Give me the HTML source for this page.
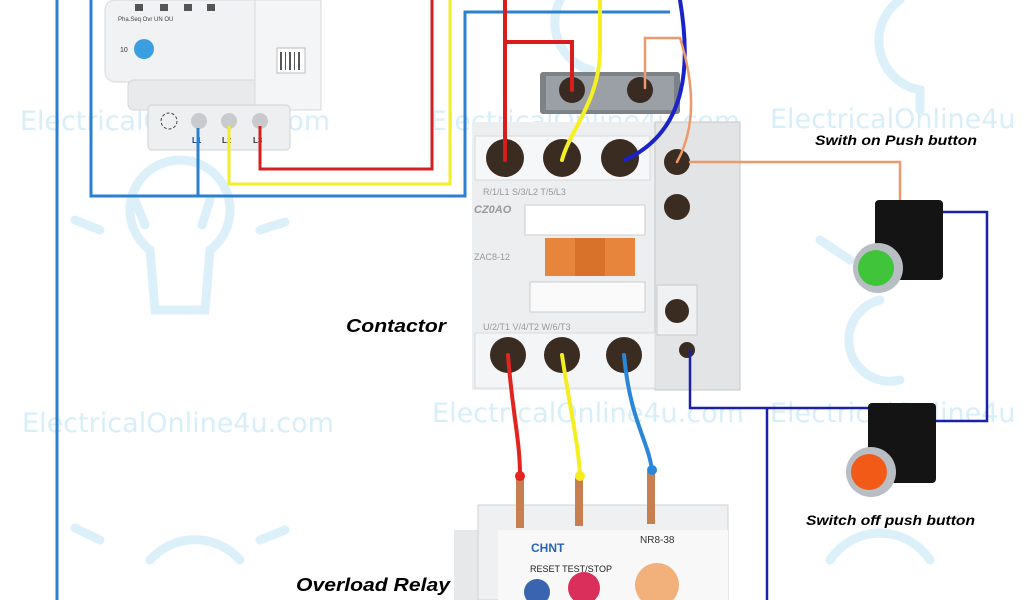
<!DOCTYPE html>
<html><head><meta charset="utf-8"><style>
body{margin:0;background:#fff;width:1024px;height:600px;overflow:hidden}
svg{display:block}
.wm{font-family:"DejaVu Sans",sans-serif;font-size:27px;fill:#d8eef9}
.lbl{font-family:"Liberation Sans",sans-serif;font-weight:bold;font-style:italic;fill:#000}
.sm{font-family:"Liberation Sans",sans-serif;font-size:9px;fill:#999}
</style></head><body>
<svg width="1024" height="600" viewBox="0 0 1024 600">
<g stroke="#dcf0fa" stroke-width="9" fill="none" stroke-linecap="round">
<path d="M150 250 a50 50 0 1 1 60 0 l-5 60 h-50 z"/>
<path d="M560 0 a50 50 0 0 0 30 70 l-5 30"/>
<path d="M900 0 a50 50 0 0 0 20 90 l0 20"/>
<path d="M850 260 l-30 -20 M830 560 a60 60 0 0 1 100 0"/>
<path d="M150 560 a60 60 0 0 1 90 0 M100 540 l-25 -12 M260 540 l25 -10"/>
<path d="M100 230 l-25 -10 M260 230 l25 -8 M135 200 l10 25 M210 200 l-8 25"/>
<path d="M880 300 a40 40 0 0 0 20 80"/>
</g>
<text class="wm" x="20" y="130" textLength="310" lengthAdjust="spacingAndGlyphs">ElectricalOnline4u.com</text>
<text class="wm" x="430" y="130" textLength="310" lengthAdjust="spacingAndGlyphs">ElectricalOnline4u.com</text>
<text class="wm" x="770" y="128">ElectricalOnline4u</text>
<text class="wm" x="22" y="432" textLength="312" lengthAdjust="spacingAndGlyphs">ElectricalOnline4u.com</text>
<text class="wm" x="432" y="422" textLength="312" lengthAdjust="spacingAndGlyphs">ElectricalOnline4u.com</text>
<text class="wm" x="770" y="422">ElectricalOnline4u</text>

<rect x="105" y="0" width="215" height="82" rx="10" fill="#f1f2f4" stroke="#d5d7da"/>
<rect x="128" y="80" width="160" height="30" rx="6" fill="#e9eaec" stroke="#d3d5d8"/>
<rect x="255" y="0" width="66" height="110" fill="#f4f5f6" stroke="#d8d9db"/>
<rect x="277" y="48" width="28" height="25" fill="#fff" stroke="#bbb"/>
<g fill="#555"><rect x="280" y="52" width="2" height="18"/><rect x="285" y="52" width="1" height="18"/><rect x="289" y="52" width="2" height="18"/><rect x="294" y="52" width="1" height="18"/><rect x="298" y="52" width="2" height="18"/></g>
<rect x="148" y="105" width="142" height="45" rx="4" fill="#eeeff1" stroke="#cfd1d4"/>
<circle cx="169" cy="121" r="8" fill="none" stroke="#444" stroke-dasharray="3 2"/>
<circle cx="199" cy="121" r="8" fill="#c9cacd"/><circle cx="229" cy="121" r="8" fill="#c9cacd"/><circle cx="260" cy="121" r="8" fill="#c9cacd"/>
<text x="192" y="143" font-size="8" font-family="Liberation Sans" font-weight="bold" fill="#1d3a8a">L1</text>
<text x="222" y="143" font-size="8" font-family="Liberation Sans" font-weight="bold" fill="#333">L2</text>
<text x="253" y="143" font-size="8" font-family="Liberation Sans" font-weight="bold" fill="#333">L3</text>
<g fill="#555"><rect x="135" y="4" width="8" height="7"/><rect x="160" y="4" width="8" height="7"/><rect x="184" y="4" width="8" height="7"/><rect x="207" y="4" width="8" height="7"/></g>
<text x="118" y="21" font-size="6" font-family="Liberation Sans" fill="#444">Pha.Seq   Ovr    UN     OU</text>
<circle cx="144" cy="49" r="10" fill="#3a9ee0"/>
<text x="120" y="52" font-size="7" fill="#333" font-family="Liberation Sans">10</text>

<g fill="none" stroke-width="3">
<path d="M57 0 V600" stroke="#2d7fd0"/>
<path d="M91 0 V196 H465 V12 H670" stroke="#2d7fd0"/>
<path d="M198 128 V196" stroke="#2d7fd0"/>
<path d="M229 126 V184 H450 V0" stroke="#f2ee2a"/>
<path d="M260 126 V169 H432 V0" stroke="#d42020"/>
</g>

<rect x="540" y="72" width="140" height="42" rx="3" fill="#7d8287"/>
<rect x="546" y="76" width="128" height="34" fill="#9aa0a5"/>
<circle cx="572" cy="90" r="13" fill="#3a2b22"/><circle cx="640" cy="90" r="13" fill="#3a2b22"/>
<rect x="472" y="122" width="268" height="268" fill="#eceeef"/>
<rect x="655" y="122" width="85" height="268" fill="#e2e4e6" stroke="#c5c8cb"/>
<rect x="475" y="136" width="175" height="44" fill="#f6f7f8" stroke="#d8dadc"/>
<circle cx="505" cy="158" r="19" fill="#3b2c22"/><circle cx="562" cy="158" r="19" fill="#3b2c22"/><circle cx="620" cy="158" r="19" fill="#3b2c22"/>
<circle cx="677" cy="162" r="13" fill="#3b2c22"/><circle cx="677" cy="207" r="13" fill="#3b2c22"/>
<text class="sm" x="483" y="195">R/1/L1   S/3/L2   T/5/L3</text>
<text x="474" y="213" font-size="11" font-family="Liberation Sans" font-style="italic" font-weight="bold" fill="#999">CZ0AO</text>
<text class="sm" x="474" y="260">ZAC8-12</text>
<rect x="525" y="205" width="120" height="30" fill="#fff" stroke="#ccc"/>
<rect x="545" y="238" width="90" height="38" fill="#e8853c"/>
<rect x="575" y="238" width="30" height="38" fill="#d8722a"/>
<rect x="530" y="282" width="115" height="30" fill="#fafafa" stroke="#ccc"/>
<rect x="475" y="333" width="180" height="55" fill="#f4f5f6" stroke="#d8dadc"/>
<text class="sm" x="483" y="330">U/2/T1   V/4/T2   W/6/T3</text>
<circle cx="508" cy="355" r="18" fill="#3b2c22"/><circle cx="562" cy="355" r="18" fill="#3b2c22"/><circle cx="624" cy="355" r="18" fill="#3b2c22"/>
<rect x="657" y="285" width="40" height="50" fill="#f0f1f2" stroke="#ccc"/>
<circle cx="677" cy="311" r="12" fill="#3b2c22"/>
<circle cx="687" cy="350" r="8" fill="#3b2c22"/>

<g fill="none" stroke-width="4" stroke-linecap="round">
<path d="M505 0 V160 M505 42 H572 V90" stroke="#d91c1c"/>
<path d="M600 0 V50 C600 100 570 130 562 160" stroke="#f5f020"/>
<path d="M680 0 C690 60 690 130 625 160" stroke="#1a22c8"/>
<path d="M677 162 C700 120 690 70 680 38 H645 V88 M690 162 H900 V205" stroke="#ec9a6c" stroke-width="2.5"/>
<path d="M508 355 C512 410 520 440 520 475" stroke="#e2231f"/>
<path d="M562 355 C570 410 578 440 580 475" stroke="#f5ee1f"/>
<path d="M624 355 C630 420 648 440 652 470" stroke="#2a86d8"/>
</g>
<g fill="none" stroke="#1a20a8" stroke-width="2.5">
<path d="M928 212 H987 V421 H930"/>
<path d="M690 350 V408 H828 L900 408"/>
<path d="M767 408 V600"/>
</g>

<rect x="875" y="200" width="68" height="80" rx="4" fill="#141414"/>
<circle cx="878" cy="268" r="25" fill="#b9bec4"/><circle cx="876" cy="268" r="18" fill="#3fc43a"/>
<rect x="868" y="403" width="68" height="80" rx="4" fill="#141414"/>
<circle cx="871" cy="472" r="25" fill="#b9bec4"/><circle cx="869" cy="472" r="18" fill="#f25a18"/>

<rect x="454" y="530" width="45" height="70" fill="#e6e8ea"/>
<rect x="478" y="505" width="250" height="95" fill="#eff0f1" stroke="#cfd1d3"/>
<rect x="498" y="530" width="230" height="70" fill="#f8f8f9"/>
<g fill="#c77f52"><rect x="516" y="478" width="8" height="50"/><rect x="575" y="478" width="8" height="48"/><rect x="647" y="472" width="8" height="52"/></g>
<circle cx="520" cy="476" r="5" fill="#e2231f"/><circle cx="580" cy="476" r="5" fill="#f5ee1f"/><circle cx="652" cy="470" r="5" fill="#2a86d8"/>
<text x="531" y="552" font-size="12" font-family="Liberation Sans" font-weight="bold" fill="#2a63b7">CHNT</text>
<text x="640" y="543" font-size="10" font-family="Liberation Sans" fill="#333">NR8-38</text>
<text x="530" y="572" font-size="9" font-family="Liberation Sans" fill="#222">RESET  TEST/STOP</text>
<circle cx="537" cy="592" r="13" fill="#3a64b0"/><circle cx="584" cy="588" r="16" fill="#d92f5a"/>
<circle cx="657" cy="585" r="22" fill="#f2b07a"/>

<text class="lbl" x="815" y="145" font-size="14" textLength="162" lengthAdjust="spacingAndGlyphs">Swith on Push button</text>
<text class="lbl" x="346" y="332" font-size="18" textLength="100" lengthAdjust="spacingAndGlyphs">Contactor</text>
<text class="lbl" x="806" y="525" font-size="14" textLength="169" lengthAdjust="spacingAndGlyphs">Switch off push button</text>
<text class="lbl" x="296" y="591" font-size="18" textLength="154" lengthAdjust="spacingAndGlyphs">Overload Relay</text>
</svg>
</body></html>
